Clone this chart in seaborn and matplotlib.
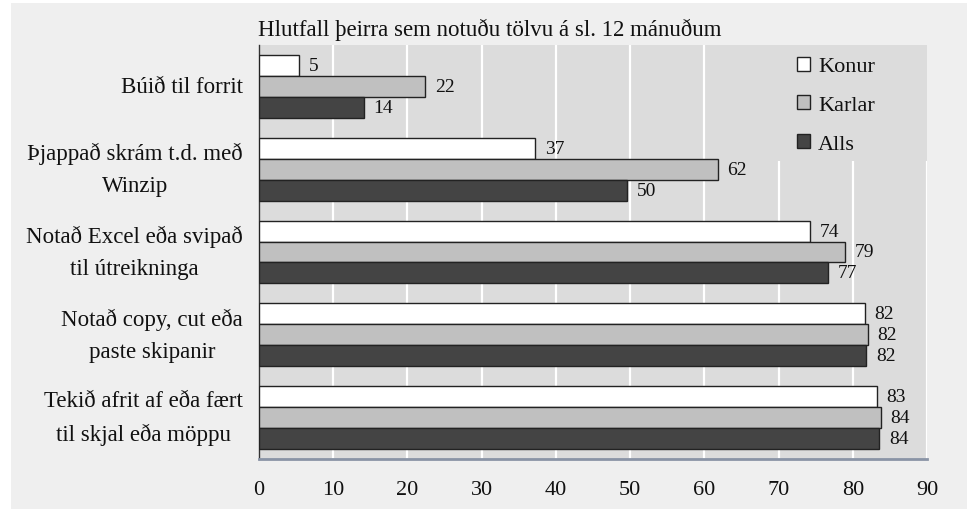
import matplotlib
matplotlib.use("Agg")
import matplotlib.pyplot as plt
import matplotlib.patches as mpatches
import matplotlib.transforms as mtransforms
import seaborn as sns
import pandas as pd

categories = [
    "Búið til forrit",
    "Þjappað skrám t.d. með\nWinzip",
    "Notað Excel eða svipað\ntil útreikninga",
    "Notað copy, cut eða\npaste skipanir",
    "Tekið afrit af eða fært\ntil skjal eða möppu",
]
series_names = ["Konur", "Karlar", "Alls"]
konur = [5.4, 37.2, 74.2, 81.6, 83.2]
karlar = [22.4, 61.8, 78.9, 82.0, 83.8]
alls = [14.1, 49.6, 76.7, 81.8, 83.6]
x_ticks = [0, 10, 20, 30, 40, 50, 60, 70, 80, 90]
title = "Hlutfall þeirra sem notuðu tölvu á sl. 12 mánuðum"
colors = ["#ffffff", "#c0c0c0", "#444444"]

rows = []
for name, vals in zip(series_names, [konur, karlar, alls]):
    for c, v in zip(categories, vals):
        rows.append({"Flokkur": c, "Hópur": name, "Gildi": v})
df = pd.DataFrame(rows)

sns.set_theme(style="white")
plt.rcParams["font.family"] = ["serif"]
plt.rcParams["font.serif"] = ["Liberation Serif", "DejaVu Serif"]
FAM = ["Liberation Serif", "DejaVu Serif"]

fig = plt.figure(figsize=(9.67, 5.10), dpi=100)
fig.patch.set_facecolor("white")
fig.patches.append(mpatches.Rectangle((11 / 967, 0), 1 - 11 / 967, 1 - 4 / 510,
                                      transform=fig.transFigure, facecolor="#efefef",
                                      edgecolor="none", zorder=-10))
ax = fig.add_axes([259 / 967, 1 - 460 / 510, (927 - 259) / 967, (460 - 46) / 510])
ax.set_facecolor("#dcdcdc")

sns.barplot(data=df, y="Flokkur", x="Gildi", hue="Hópur", order=categories,
            hue_order=series_names, palette=colors, orient="h", width=0.76,
            edgecolor="#222222", linewidth=1.0, saturation=1, ax=ax, zorder=3)

for cont in ax.containers:
    ax.bar_label(cont, labels=[f"{b.get_width():.0f}" for b in cont],
                 padding=7, fontsize=14, color="#111111", family=FAM)

ax.set_xlim(0, 90)
ax.set_xticks(x_ticks, labels=[str(t) for t in x_ticks], family=FAM, fontsize=16)
ax.tick_params(axis="x", length=0, pad=15, colors="#111111")
ax.set_yticks(range(len(categories)), labels=[""] * len(categories))
ax.tick_params(axis="y", length=0)
lab_tr = ax.get_yaxis_transform() + mtransforms.ScaledTranslation(-16 / 100, 0,
                                                                  fig.dpi_scale_trans)
for i, c in enumerate(categories):
    ax.text(0, i, c, transform=lab_tr, ha="right", va="center",
            multialignment="center", linespacing=1.7, fontsize=16.5,
            family=FAM, color="#111111")
ax.set_xlabel("")
ax.set_ylabel("")
ax.set_axisbelow(True)
ax.grid(axis="x", color="white", linewidth=1.6)
ax.grid(axis="y", visible=False)
for s in ["top", "right"]:
    ax.spines[s].set_visible(False)
ax.spines["left"].set_color("#333333")
ax.spines["left"].set_linewidth(1.0)
ax.spines["bottom"].set_color("#8a94a6")
ax.spines["bottom"].set_linewidth(2.0)

ax.add_patch(mpatches.Rectangle(((710 - 259) / 668, (460 - 162) / 414),
                                1 - (710 - 259) / 668, 1 - (460 - 162) / 414,
                                transform=ax.transAxes, facecolor="#dcdcdc",
                                edgecolor="none", zorder=1))

handles, labels = ax.get_legend_handles_labels()
leg = ax.legend(handles, labels, loc="upper left",
                bbox_to_anchor=((779 - 259) / 668, 1.015), frameon=False,
                prop={"family": FAM, "size": 16}, handlelength=0.6, handleheight=0.6,
                handletextpad=0.35, labelspacing=0.85, borderpad=0.3)
for t in leg.get_texts():
    t.set_color("#111111")

ax.set_title(title, loc="left", fontsize=16.5, pad=7, color="#111111", x=-0.002,
             family=FAM)

fig.savefig("out.png", dpi=100, facecolor=fig.get_facecolor())
